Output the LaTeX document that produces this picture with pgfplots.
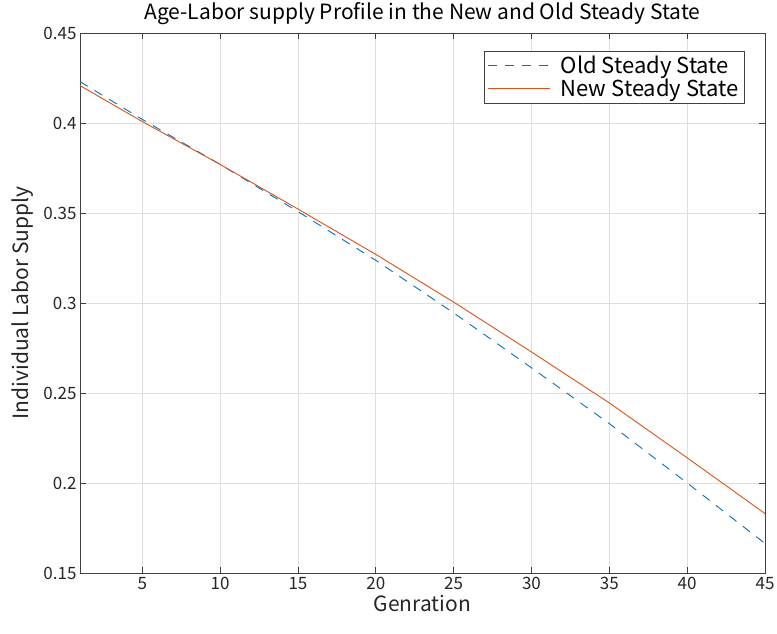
\documentclass[border=0pt]{standalone}
\usepackage{fontspec}
\setmainfont{Noto Sans CJK JP}
\usepackage{pgfplots}
\pgfplotsset{compat=1.18}

\definecolor{oldblue}{rgb}{0.0,0.447,0.741}
\definecolor{neworange}{rgb}{0.85,0.325,0.098}

\begin{document}
\begin{tikzpicture}[x=1pt,y=1pt]
\useasboundingbox (0,0) rectangle (777,634);
\begin{axis}[
  at={(80pt,61pt)}, anchor=south west,
  width=685pt, height=540pt, scale only axis,
  xmin=1, xmax=45, ymin=0.15, ymax=0.45,
  xtick={5,10,15,20,25,30,35,40,45},
  ytick={0.15,0.2,0.25,0.3,0.35,0.4,0.45},
  tick align=inside,
  major tick length=6pt,
  tick style={color=black!75, line width=0.6pt},
  axis line style={color=black!75, line width=0.7pt},
  grid=major,
  grid style={color=black!13, line width=0.6pt},
  /pgf/number format/assume math mode=true,
  tick label style={font=\fontsize{17}{19}\selectfont, text=black!85},
  xticklabel style={yshift=-1pt},
  title={Age-Labor supply Profile in the New and Old Steady State},
  title style={font=\fontsize{21}{24}\selectfont, yshift=-1pt},
  xlabel={Genration},
  ylabel={Individual Labor Supply},
  label style={font=\fontsize{21}{24}\selectfont, text=black!85},
  xlabel style={yshift=2pt},
  ylabel style={yshift=3pt},
  legend cell align=left,
  legend style={
    at={(axis description cs:0.971,0.967)}, anchor=north east,
    draw=black!75, line width=0.7pt,
    font=\fontsize{22}{25}\selectfont,
    inner xsep=4pt, inner ysep=3pt,
    row sep=0pt,
  },
  legend image code/.code={\draw[#1] (0pt,0pt) -- (62pt,0pt);},
]
\addplot[color=oldblue, line width=0.9pt, dash pattern=on 9pt off 8pt]
  coordinates {
    (1,0.4230) (5,0.4020) (10,0.3770) (15,0.3508) (20,0.3237)
    (25,0.2945) (30,0.2640) (35,0.2330) (40,0.2000) (45,0.1664)
  };
\addlegendentry{\hspace{8pt}Old Steady State}
\addplot[color=neworange, line width=0.9pt]
  coordinates {
    (1,0.4208) (5,0.4008) (10,0.3770) (15,0.3522) (20,0.3270)
    (25,0.3005) (30,0.2728) (35,0.2445) (40,0.2140) (45,0.1830)
  };
\addlegendentry{\hspace{8pt}New Steady State}
\end{axis}
\end{tikzpicture}
\end{document}
